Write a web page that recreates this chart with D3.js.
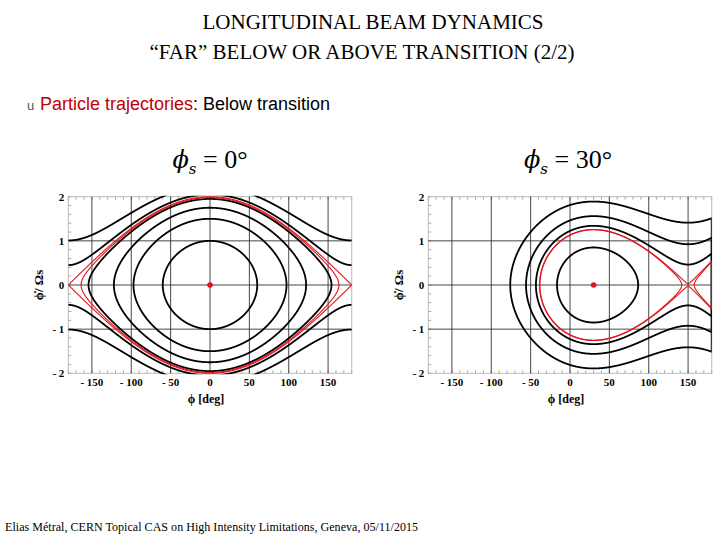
<!DOCTYPE html>
<html><head><meta charset="utf-8">
<script src="https://d3js.org/d3.v7.min.js"></script>
<style>body{margin:0;background:#fff}</style></head>
<body><svg id="s" width="720" height="540"></svg>
<script>
// Data
const xTicks = [-150,-100,-50,0,50,100,150];
const yTicks = [-2,-1,0,1,2];
const yTickLabels = ["- 2","- 1","0","1","2"];
const xTickLabels = ["- 150","- 100","- 50","0","50","100","150"];
const phaseSynch = [0, 30];               // φs in degrees for the two panels
// trajectory levels, given as |φ̇/Ωs| at φ = φs (black) and separatrix-like levels (red)
const levelsLeft = [1.0, 1.5, 1.75, 1.95, 2.05, 2.24];
const redLeft = [2.0, 1.98];
const levelsRight = [0.85, 1.34, 1.56, 1.89];
const redRight = [1.258, 1.25];

const svg = d3.select("#s");
const serif = "Liberation Serif, Times New Roman, serif";
svg.append("text").attr("x",373).attr("y",29).attr("text-anchor","middle").attr("font-family",serif).attr("font-size",21).text("LONGITUDINAL BEAM DYNAMICS");
svg.append("text").attr("x",362).attr("y",59).attr("text-anchor","middle").attr("font-family",serif).attr("font-size",21).text("“FAR” BELOW OR ABOVE TRANSITION (2/2)");
svg.append("text").attr("x",27).attr("y",110).attr("font-family","Liberation Sans, Arial").attr("font-size",13).attr("fill","#555").text("u");
const t = svg.append("text").attr("x",40).attr("y",110).attr("font-family","Liberation Sans, Arial").attr("font-size",18);
t.append("tspan").attr("fill","#c00000").text("Particle trajectories");
t.append("tspan").attr("fill","#000").text(": Below transition");
svg.append("text").attr("x",5).attr("y",531).attr("font-family",serif).attr("font-size",12).attr("textLength",413).text("Elias Métral, CERN Topical CAS on High Intensity Limitations, Geneva, 05/11/2015");

function panel(x0, x1, phis, levels, reds, titleX){
  const x = d3.scaleLinear().domain([-180,180]).range([x0,x1]);
  const y = d3.scaleLinear().domain([-2,2]).range([373.3,196.7]);
  const g = svg.append("g");
  const T = g.append("text").attr("x",titleX).attr("y",168).attr("text-anchor","middle").attr("font-family","DejaVu Serif, serif").attr("font-size",24);
  T.append("tspan").attr("font-style","italic").text("ϕ");
  T.append("tspan").attr("font-style","italic").attr("font-size",15).attr("dy",6).text("s");
  T.append("tspan").attr("dy",-6).attr("font-family",serif).attr("font-size",26).text(" = "+phis+"°");
  g.append("rect").attr("x",x0).attr("y",y(2)).attr("width",x1-x0).attr("height",y(-2)-y(2)).attr("fill","none").attr("stroke","#bbb");
  d3.range(-180,181,10).forEach(v=>{g.append("line").attr("x1",x(v)).attr("x2",x(v)).attr("y1",y(-2)).attr("y2",y(-2)-3).attr("stroke","#aaa");
    g.append("line").attr("x1",x(v)).attr("x2",x(v)).attr("y1",y(2)).attr("y2",y(2)+3).attr("stroke","#aaa");});
  d3.range(-2,2.01,0.2).forEach(v=>{g.append("line").attr("x1",x0).attr("x2",x0+3).attr("y1",y(v)).attr("y2",y(v)).attr("stroke","#aaa");});
  xTicks.forEach((v,i)=>{g.append("line").attr("x1",x(v)).attr("x2",x(v)).attr("y1",y(2)).attr("y2",y(-2)).attr("stroke","#333").attr("stroke-width",0.9);
    g.append("text").attr("x",x(v)).attr("y",386).attr("text-anchor","middle").attr("font-family",serif).attr("font-weight","bold").attr("font-size",11).text(xTickLabels[i]);});
  yTicks.forEach((v,i)=>{ if(Math.abs(v)<2) g.append("line").attr("x1",x0).attr("x2",x1).attr("y1",y(v)).attr("y2",y(v)).attr("stroke","#333").attr("stroke-width",0.9);
    g.append("text").attr("x",x0-4).attr("y",y(v)+4).attr("text-anchor","end").attr("font-family",serif).attr("font-weight","bold").attr("font-size",11).text(yTickLabels[i]);});
  g.append("text").attr("x",(x0+x1)/2-4).attr("y",403).attr("text-anchor","middle").attr("font-family",serif).attr("font-weight","bold").attr("font-size",12).text("ϕ [deg]");
  g.append("text").attr("transform",`translate(${x0-25},${y(0)}) rotate(-90)`).attr("text-anchor","middle").attr("font-family",serif).attr("font-weight","bold").attr("font-size",13).text("ϕ̇/ Ωs");

  const s = Math.sin(phis*Math.PI/180), c = Math.cos(phis*Math.PI/180);
  const V0 = -Math.cos(phis*Math.PI/180) - (phis*Math.PI/180)*s;
  const V = d => { const p=d*Math.PI/180; return (-Math.cos(p) - p*s - V0)/c; };
  const clip = "cp"+phis;
  g.append("clipPath").attr("id",clip).append("rect").attr("x",x0).attr("y",y(2)-1).attr("width",x1-x0).attr("height",y(-2)-y(2)+2);
  const line = d3.line().x(d=>x(d[0])).y(d=>y(d[1]));
  function draw(y0, color, w){
    const H = y0*y0/2;
    const step=0.05, grid=d3.range(-180,180+step/2,step);
    const bis=(a,b)=>{ // a inside, b outside
      for(let k=0;k<40;k++){const m=(a+b)/2; if(H-V(m)>=0) a=m; else b=m;} return a; };
    let intervals=[], cur=null;
    grid.forEach((p,i)=>{ if(H-V(p)>=0){ if(!cur){cur=[]; if(i>0) cur.push(bis(p,grid[i-1])); intervals.push(cur);} cur.push(p);}
      else { if(cur) cur.push(bis(grid[i-1],p)); cur=null; } });
    intervals.forEach(iv=>{
      const up = iv.map(p=>[p, Math.sqrt(Math.max(0,2*(H-V(p))))]);
      const lo = iv.map(p=>[p,-Math.sqrt(Math.max(0,2*(H-V(p))))]).reverse();
      const leftB = iv[0]<=-179.9, rightB = iv[iv.length-1]>=179.9;
      let paths;
      if(leftB && rightB) paths=[up, lo];
      else if(!leftB && !rightB) paths=[up.concat(lo, [up[0]])];
      else if(leftB) paths=[lo.concat(up)];
      else paths=[up.concat(lo)];
      paths.forEach(pth=>g.append("path").attr("d",line(pth)).attr("fill","none").attr("stroke",color).attr("stroke-width",w).attr("stroke-linejoin","round").attr("clip-path",`url(#${clip})`));
    });
  }
  levels.forEach(l=>draw(l,"#000",1.8));
  reds.forEach(l=>draw(l,"#e0141e",1.1));
  g.append("circle").attr("cx",x(phis)).attr("cy",y(0)).attr("r",2.8).attr("fill","#e0141e");
}
panel(68.3, 351.7, phaseSynch[0], levelsLeft, redLeft, 210);
panel(428.3, 711.7, phaseSynch[1], levelsRight, redRight, 568);
</script></body></html>
